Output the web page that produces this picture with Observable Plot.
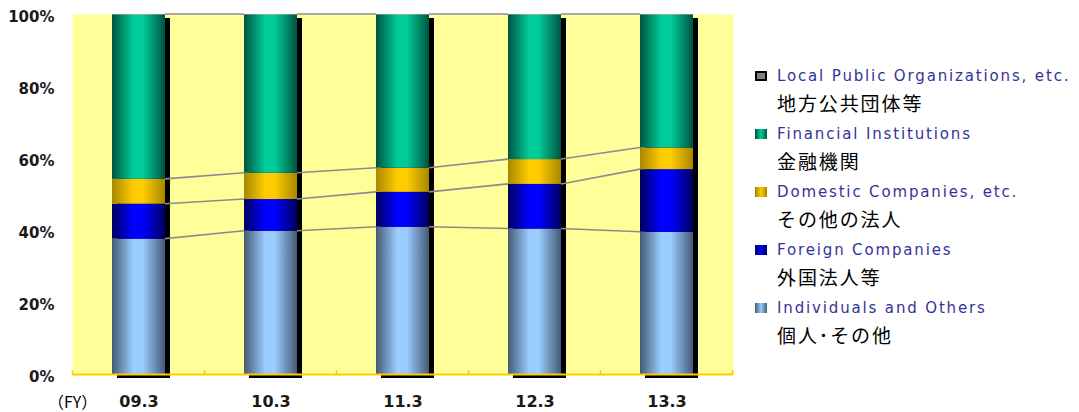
<!DOCTYPE html>
<html>
<head>
<meta charset="utf-8">
<script src="https://cdn.jsdelivr.net/npm/d3@7"></script>
<script src="https://cdn.jsdelivr.net/npm/@observablehq/plot@0.6"></script>
<style>
  html, body { margin: 0; padding: 0; background: #ffffff; }
  #wrap { position: relative; width: 1079px; height: 412px; overflow: hidden; }
  .en { position: absolute; font-family: "DejaVu Sans", sans-serif; font-size: 15px; color: #333399; white-space: nowrap; line-height: 18px; letter-spacing: 1.85px; }
  .ja { position: absolute; font-family: "Noto Sans CJK JP", sans-serif; font-size: 19px; color: #000; white-space: nowrap; line-height: 22px; letter-spacing: 1.9px; }
  .sw { position: absolute; width: 12px; height: 10px; box-sizing: border-box; }
  .fy { position: absolute; font-family: "Noto Sans CJK JP", sans-serif; font-size: 16px; color: #000; white-space: nowrap; line-height: 18px; }
</style>
</head>
<body>
<div id="wrap"></div>
<script>
// ---- data ----
const years = ["09.3", "10.3", "11.3", "12.3", "13.3"];
const seriesEn = ["Individuals and Others", "Foreign Companies", "Domestic Companies, etc.", "Financial Institutions", "Local Public Organizations, etc."];
const seriesJa = ["個人･その他", "外国法人等", "その他の法人", "金融機関", "地方公共団体等"];
const individuals = [37.6, 39.8, 40.9, 40.4, 39.5];
const foreign     = [9.7, 8.8, 9.7, 12.4, 17.4];
const domestic    = [6.9, 7.3, 6.7, 6.9, 6.0];
const financial   = [45.7, 44.0, 42.6, 40.2, 37.0];
const localPublic = [0.1, 0.1, 0.1, 0.1, 0.1];
const yTicks = [0, 20, 40, 60, 80, 100];
// gradient colours: [edge, centre]
const gradColors = [
  ["#465a74", "#99ccff"],
  ["#000060", "#0000ff"],
  ["#a88600", "#ffcc00"],
  ["#005440", "#00cc99"],
  ["#606060", "#909090"]
];

// ---- tables built from arrays ----
const seriesValues = [individuals, foreign, domestic, financial, localPublic];
const table = [];
seriesEn.forEach((s, si) => years.forEach((y, yi) => table.push({year: y, series: s, value: seriesValues[si][yi]})));
const totals = years.map((y, yi) => ({year: y, total: d3.sum(seriesValues, a => a[yi])}));
const cum = years.map((y, yi) => {
  let acc = 0; const out = [];
  seriesValues.forEach(a => { acc += a[yi]; out.push(acc); });
  return out;
});
const connectors = [];
[0, 1, 2, 4].forEach(k => {
  for (let i = 0; i < years.length - 1; i++) {
    connectors.push({from: years[i], to: years[i + 1], v1: cum[i][k], v2: cum[i + 1][k]});
  }
});

const chart = Plot.plot({
  width: 1079,
  height: 412,
  marginLeft: 72,
  marginRight: 346,
  marginTop: 14,
  marginBottom: 38,
  style: {background: "transparent", fontFamily: "DejaVu Sans, sans-serif", overflow: "visible"},
  x: {type: "band", domain: years, paddingInner: 0.6, paddingOuter: 0.3, label: null},
  y: {domain: [0, 100], label: null},
  color: {type: "ordinal", domain: seriesEn, range: seriesEn.map((_, i) => `url(#grad${i})`)},
  marks: [
    Plot.frame({fill: "#ffff99", stroke: "none"}),
    Plot.barY(totals, {x: "year", y: "total", fill: "#000000", dx: 5, dy: 4}),
    Plot.barY(table, {x: "year", y: "value", fill: "series", order: seriesEn}),
    (index, scales) => {
      const g = d3.create("svg:g");
      const bw = scales.x.bandwidth();
      for (const c of connectors) {
        g.append("line")
          .attr("x1", scales.x(c.from) + bw)
          .attr("x2", scales.x(c.to))
          .attr("y1", scales.y(c.v1))
          .attr("y2", scales.y(c.v2))
          .attr("stroke", "#8c8c8c")
          .attr("stroke-width", 1.6);
      }
      return g.node();
    },
    (index, scales) => {
      const g = d3.create("svg:g");
      const bw = scales.x.bandwidth();
      const step = scales.x.step();
      const y0 = scales.y(0);
      const r = scales.x.range();
      g.append("line").attr("x1", r[0]).attr("x2", r[1]).attr("y1", y0 + 0.5).attr("y2", y0 + 0.5)
        .attr("stroke", "#ffcc00").attr("stroke-width", 2);
      const bounds = years.map(y => scales.x(y) - (step - bw) / 2);
      bounds.push(bounds[bounds.length - 1] + step);
      for (const b of bounds) {
        g.append("line").attr("x1", b).attr("x2", b).attr("y1", y0 - 4).attr("y2", y0 + 1)
          .attr("stroke", "#ffcc00").attr("stroke-width", 1.5);
      }
      return g.node();
    },
    Plot.axisY({ticks: yTicks, tickFormat: d => d + "%", tickSize: 0, tickPadding: 18, dy: 3,
      fontSize: 15, fontWeight: "bold", fill: "#1a1a1a", fontFamily: "DejaVu Sans, sans-serif"}),
    Plot.axisX({tickSize: 0, tickPadding: 21, fontSize: 16, fontWeight: "bold", fill: "#1a1a1a",
      fontFamily: "DejaVu Sans, sans-serif"})
  ]
});

const defs = d3.select(chart).insert("defs", ":first-child");
gradColors.forEach((c, i) => {
  const lg = defs.append("linearGradient").attr("id", "grad" + i)
    .attr("x1", 0).attr("x2", 1).attr("y1", 0).attr("y2", 0);
  [[0, c[0]], [0.4, c[1]], [0.58, c[1]], [1, c[0]]].forEach(([o, col]) =>
    lg.append("stop").attr("offset", o).attr("stop-color", col));
});

const wrap = document.getElementById("wrap");
wrap.appendChild(chart);

const legendOrder = [4, 3, 2, 1, 0];
legendOrder.forEach((si, k) => {
  const cy = 76 + k * 58;
  const sw = document.createElement("div");
  sw.className = "sw";
  sw.style.left = "755px";
  sw.style.top = (cy - 5) + "px";
  const c = gradColors[si];
  sw.style.background = si === 4 ? "#808080" : `linear-gradient(to right, ${c[0]}, ${c[1]} 50%, ${c[0]})`;
  if (si === 4) sw.style.border = "2px solid #000";
  wrap.appendChild(sw);
  const en = document.createElement("div");
  en.className = "en";
  en.style.left = "777px";
  en.style.top = (cy - 9) + "px";
  en.textContent = seriesEn[si];
  wrap.appendChild(en);
  const ja = document.createElement("div");
  ja.className = "ja";
  ja.style.left = "777px";
  ja.style.top = (cy + 28 - 12) + "px";
  ja.textContent = seriesJa[si];
  wrap.appendChild(ja);
});

const fy = document.createElement("div");
fy.className = "fy";
fy.style.left = "48px";
fy.style.top = "392px";
fy.textContent = "（FY）";
wrap.appendChild(fy);
</script>
</body>
</html>
